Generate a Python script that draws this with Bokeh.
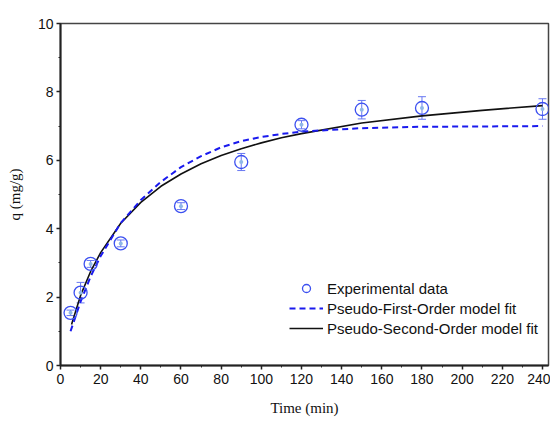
from bokeh.plotting import figure
from bokeh.models import Range1d, Whisker, ColumnDataSource, Legend, LegendItem, FixedTicker, TeeHead
from bokeh.embed import file_html
from bokeh.resources import INLINE

# Experimental data
t_exp = [5, 10, 15, 30, 60, 90, 120, 150, 180, 240]
q_exp = [1.54, 2.13, 2.97, 3.57, 4.66, 5.95, 7.04, 7.48, 7.53, 7.5]
q_err = [0.08, 0.3, 0.1, 0.1, 0.1, 0.25, 0.12, 0.27, 0.33, 0.3]

# Pseudo-first-order fit
t_pfo = [5, 10, 15, 20, 30, 40, 50, 60, 70, 80, 90, 100, 110, 120, 150, 180, 210, 240]
q_pfo = [1.0, 1.87, 2.6, 3.2, 4.17, 4.84, 5.37, 5.8, 6.12, 6.38, 6.56, 6.68, 6.77, 6.84, 6.94, 6.98, 6.99, 7.0]

# Pseudo-second-order fit
t_pso = [5.5, 10, 15, 20, 30, 40, 50, 60, 70, 80, 90, 100, 110, 120, 150, 180, 210, 240]
q_pso = [1.2, 2.05, 2.75, 3.3, 4.16, 4.77, 5.24, 5.6, 5.9, 6.14, 6.34, 6.51, 6.66, 6.78, 7.09, 7.3, 7.46, 7.6]

x_ticks = list(range(0, 241, 20))
y_ticks = [0, 2, 4, 6, 8, 10]

p = figure(width=550, height=418, output_backend="svg", toolbar_location=None,
           x_range=Range1d(0, 243), y_range=Range1d(0, 10),
           min_border_left=60, min_border_right=2, min_border_top=23, min_border_bottom=50)
p.grid.visible = False
p.background_fill_color = "white"
p.border_fill_color = "white"
p.outline_line_color = "#444444"
p.outline_line_width = 1.5

for ax in (p.xaxis[0], p.yaxis[0]):
    ax.axis_line_width = 2
    ax.axis_line_color = "#222222"
    ax.major_tick_line_color = "#222222"
    ax.minor_tick_line_color = "#222222"
    ax.major_tick_line_width = 1.5
    ax.major_tick_in = 0
    ax.minor_tick_in = 0
    ax.major_tick_out = 4
    ax.minor_tick_out = 2
    ax.major_label_text_font = "Liberation Sans"
    ax.major_label_text_font_size = "14px"
    ax.major_label_text_color = "#111111"
    ax.axis_label_text_font = "Liberation Serif"
    ax.axis_label_text_font_size = "15px"
    ax.axis_label_text_font_style = "normal"
    ax.axis_label_text_color = "#111111"

p.xaxis.ticker = FixedTicker(ticks=x_ticks, minor_ticks=list(range(0, 241, 10)))
p.yaxis.ticker = FixedTicker(ticks=y_ticks, minor_ticks=list(range(0, 11, 1)))
p.xaxis.major_label_standoff = 4
p.yaxis.major_label_standoff = 3
p.xaxis.axis_label = "Time (min)"
p.yaxis.axis_label = "q (mg/g)"
p.xaxis.axis_label_standoff = 13
p.yaxis.axis_label_standoff = 12

src = ColumnDataSource(dict(t=t_exp, q=q_exp,
                            lo=[q - e for q, e in zip(q_exp, q_err)],
                            hi=[q + e for q, e in zip(q_exp, q_err)]))
w = Whisker(source=src, base="t", lower="lo", upper="hi", line_color="#6878f2", line_width=1,
            upper_head=TeeHead(size=8, line_color="#6878f2", line_width=1),
            lower_head=TeeHead(size=8, line_color="#6878f2", line_width=1))
p.add_layout(w)

r_pso = p.line(t_pso, q_pso, line_color="#111111", line_width=1.6)
r_pfo = p.line(t_pfo, q_pfo, line_color="#1a1aee", line_width=2, line_dash="6 4")
r_pts = p.scatter("t", "q", source=src, size=13, fill_color=None, line_color="#3c50f0", line_width=1.3)
r_dot = p.scatter("t", "q", source=src, size=4, fill_color="#8fb8e8", line_color=None)

legend = Legend(items=[
    LegendItem(label="Experimental data", renderers=[r_pts]),
    LegendItem(label="Pseudo-First-Order model fit", renderers=[r_pfo]),
    LegendItem(label="Pseudo-Second-Order model fit", renderers=[r_pso]),
], location=(229, 27), border_line_color=None, background_fill_alpha=0,
    padding=0, margin=0, spacing=0, glyph_width=34, glyph_height=20, label_height=20,
    label_standoff=4, label_text_font="Liberation Sans", label_text_font_size="15px",
    label_text_color="#111111")
p.add_layout(legend, "center")

open("out.html", "w").write(file_html(p, INLINE))
